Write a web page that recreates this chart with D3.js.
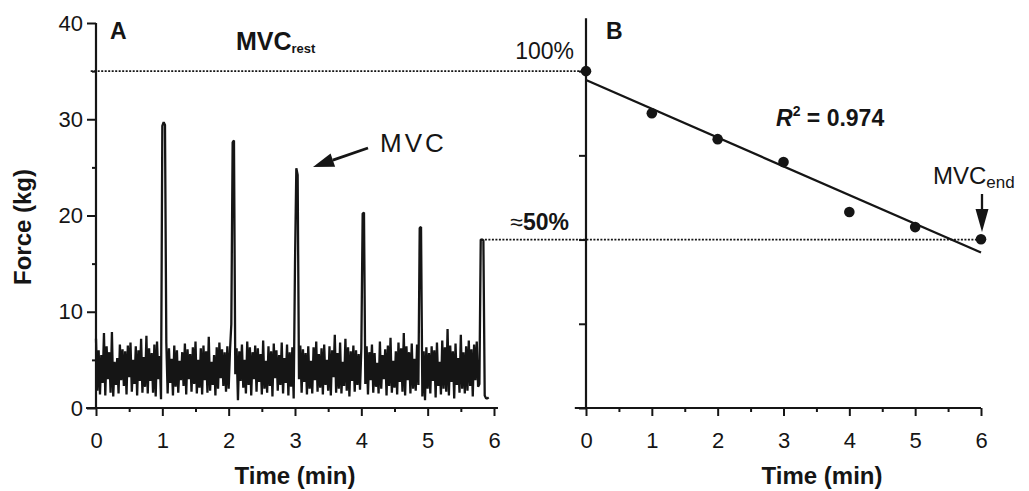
<!DOCTYPE html>
<html>
<head>
<meta charset="utf-8">
<script src="https://cdn.jsdelivr.net/npm/d3@7"></script>
<style>
  body { margin: 0; background: #fff; }
  text { font-family: "Liberation Sans", Arial, sans-serif; fill: #151515; }
</style>
</head>
<body>
<svg id="chart" width="1029" height="491"></svg>
<script>
// force trace of panel A, one sample every 0.02 min
const traceStep = 0.02
const traceForce = [
  7.2, 1.8, 6.0, 1.4, 5.5, 2.6, 7.8, 1.3, 6.4, 3.0,
  5.8, 1.6, 7.9, 1.2, 4.8, 2.4, 5.2, 1.5, 6.6, 2.9,
  6.1, 2.3, 5.9, 1.4, 6.5, 3.2, 6.8, 1.7, 5.0, 2.5,
  6.4, 1.3, 6.0, 2.8, 7.2, 1.6, 5.3, 2.2, 7.5, 1.5,
  6.2, 2.8, 5.7, 1.6, 6.6, 1.2, 6.9, 3.0, 5.4, 0.9,
  29.3, 29.7, 29.4, 6.8, 1.5, 6.2, 2.6, 5.1, 1.3, 6.5,
  2.2, 6.0, 1.6, 4.9, 2.9, 5.8, 2.3, 6.7, 1.4, 6.1,
  3.0, 5.6, 1.7, 6.3, 2.5, 6.9, 1.5, 5.0, 2.1, 6.2,
  1.4, 6.5, 2.9, 5.9, 1.6, 7.4, 1.8, 4.8, 2.4, 5.5,
  1.3, 6.3, 2.0, 6.8, 3.1, 6.1, 2.3, 5.8, 1.7, 6.4,
  2.0, 6.0, 8.7, 27.6, 27.8, 3.5, 6.2, 0.8, 5.9, 2.8,
  6.6, 2.1, 5.0, 1.5, 6.9, 2.4, 6.3, 1.3, 5.8, 3.0,
  6.5, 1.7, 6.2, 2.7, 5.6, 1.4, 7.0, 2.0, 4.9, 1.6,
  6.4, 2.3, 5.9, 1.2, 6.7, 3.1, 6.0, 1.8, 5.5, 2.4,
  6.8, 1.5, 5.2, 2.6, 6.6, 1.3, 5.8, 2.2, 6.3, 1.0,
  15.0, 24.9, 24.2, 3.0, 6.5, 1.6, 6.1, 2.7, 5.7, 1.4,
  6.4, 2.0, 4.9, 1.5, 6.3, 2.9, 6.9, 1.7, 5.6, 2.1,
  6.2, 1.4, 6.6, 2.4, 5.0, 1.8, 6.4, 1.3, 6.0, 3.2,
  7.6, 1.6, 5.7, 2.0, 6.8, 1.5, 4.8, 2.3, 7.2, 1.8,
  6.3, 1.2, 5.9, 2.8, 6.5, 1.7, 6.0, 2.4, 5.6, 1.9,
  6.2, 20.2, 20.3, 2.5, 6.4, 1.4, 5.8, 2.9, 6.6, 1.6,
  5.7, 2.2, 4.7, 1.5, 6.9, 2.0, 5.5, 3.0, 6.1, 1.3,
  6.5, 2.3, 7.3, 1.6, 4.9, 2.1, 5.9, 1.4, 6.8, 2.7,
  6.2, 1.7, 7.8, 1.3, 6.4, 2.9, 5.8, 1.5, 6.7, 2.0,
  5.1, 1.8, 6.6, 2.4, 18.7, 18.8, 1.2, 5.9, 0.8, 6.3,
  2.0, 5.7, 1.5, 6.4, 2.8, 6.0, 1.1, 6.8, 2.3, 4.8,
  1.4, 7.0, 2.0, 6.3, 1.7, 8.2, 1.3, 6.5, 2.7, 5.9,
  1.0, 6.7, 2.4, 5.2, 1.6, 7.6, 2.0, 5.8, 1.5, 6.4,
  1.8, 7.0, 2.3, 6.1, 1.2, 6.6, 2.9, 6.9, 2.2, 2.5,
  17.5, 17.5, 17.4, 1.3, 1.0, 1.0, 1.1
]
const mvcRest = 35          // kg
const mvcEndPct = 50

// panel B: MVC as % of MVC_rest
const fatigueTime = [0, 1, 2, 3, 4, 5, 6]
const fatiguePct = [100, 87.5, 79.8, 73, 58.2, 53.7, 50.1]

const timeTicks = [0, 1, 2, 3, 4, 5, 6]
const timeMinor = [0.5, 1.5, 2.5, 3.5, 4.5, 5.5]
const forceTicks = [0, 10, 20, 30, 40]
const forceMinor = [5, 15, 25, 35]
const pctTicks = [0, 25, 50, 75, 100]

const ink = "#151515"
const svg = d3.select("#chart")

const xA = d3.scaleLinear().domain([0, 6]).range([96, 494])
const yA = d3.scaleLinear().domain([0, 40]).range([408, 23])
const xB = d3.scaleLinear().domain([0, 6]).range([586, 981])
const yB = d3.scaleLinear().domain([0, 100]).range([yA(0), yA(mvcRest)])

function styleAxis(g, fontSize) {
  g.select(".domain").remove()
  g.selectAll(".tick line").attr("stroke", ink).attr("stroke-width", 2)
  g.selectAll(".tick text").attr("font-size", fontSize).attr("fill", ink)
    .attr("font-family", '"Liberation Sans", Arial, sans-serif')
}

// ---- panel A axes ----
svg.append("g").attr("transform", `translate(0,${yA(0)})`)
  .call(d3.axisBottom(xA).tickValues(timeTicks).tickSize(8).tickPadding(16).tickFormat(d3.format("d")))
  .call(g => styleAxis(g, 22))
svg.append("g").attr("transform", `translate(0,${yA(0)})`)
  .call(d3.axisBottom(xA).tickValues(timeMinor).tickSize(4).tickFormat(""))
  .call(g => styleAxis(g, 22))
svg.append("g").attr("transform", `translate(${xA(0)},0)`)
  .call(d3.axisLeft(yA).tickValues(forceTicks).tickSize(9).tickPadding(4).tickFormat(d3.format("d")))
  .call(g => styleAxis(g, 22))
svg.append("g").attr("transform", `translate(${xA(0)},0)`)
  .call(d3.axisLeft(yA).tickValues(forceMinor).tickSize(4).tickFormat(""))
  .call(g => styleAxis(g, 22))

svg.append("line").attr("x1", xA(-0.15)).attr("x2", xA(6.06)).attr("y1", yA(0)).attr("y2", yA(0))
  .attr("stroke", ink).attr("stroke-width", 2.2)
svg.append("line").attr("x1", xA(0)).attr("x2", xA(0)).attr("y1", yA(40)).attr("y2", yA(0))
  .attr("stroke", ink).attr("stroke-width", 2.2)

// ---- panel B axes ----
svg.append("g").attr("transform", `translate(0,${yB(0)})`)
  .call(d3.axisBottom(xB).tickValues(timeTicks).tickSize(8).tickPadding(16).tickFormat(d3.format("d")))
  .call(g => styleAxis(g, 22))
svg.append("g").attr("transform", `translate(0,${yB(0)})`)
  .call(d3.axisBottom(xB).tickValues(timeMinor).tickSize(4).tickFormat(""))
  .call(g => styleAxis(g, 22))
svg.append("g").attr("transform", `translate(${xB(0)},0)`)
  .call(d3.axisLeft(yB).tickValues(pctTicks).tickSize(7).tickFormat(""))
  .call(g => styleAxis(g, 22))

svg.append("line").attr("x1", xB(-0.17)).attr("x2", xB(6)).attr("y1", yB(0)).attr("y2", yB(0))
  .attr("stroke", ink).attr("stroke-width", 2.2)
svg.append("line").attr("x1", xB(0)).attr("x2", xB(0)).attr("y1", yA(40.5)).attr("y2", yB(0))
  .attr("stroke", ink).attr("stroke-width", 2.2)

// ---- dotted reference lines ----
svg.append("line").attr("x1", xA(-0.08)).attr("x2", xB(0) - 3)
  .attr("y1", yA(mvcRest)).attr("y2", yA(mvcRest))
  .attr("stroke", ink).attr("stroke-width", 1.7).attr("stroke-dasharray", "2,1.5")
svg.append("line").attr("x1", xA(5.81)).attr("x2", xB(6) - 4)
  .attr("y1", yB(mvcEndPct)).attr("y2", yB(mvcEndPct))
  .attr("stroke", ink).attr("stroke-width", 1.7).attr("stroke-dasharray", "2,1.5")

// ---- panel A trace ----
const traceLine = d3.line()
  .x((d, i) => xA(i * traceStep))
  .y(d => yA(d))
svg.append("path").datum(traceForce)
  .attr("d", traceLine)
  .attr("fill", "none").attr("stroke", ink).attr("stroke-width", 2.3)
  .attr("stroke-linejoin", "bevel")

// ---- panel B points and regression ----
const mx = d3.mean(fatigueTime), my = d3.mean(fatiguePct)
const slope = d3.sum(fatigueTime, (t, i) => (t - mx) * (fatiguePct[i] - my)) /
  d3.sum(fatigueTime, t => (t - mx) * (t - mx))
const intercept = my - slope * mx

svg.append("line")
  .attr("x1", xB(0)).attr("y1", yB(intercept))
  .attr("x2", xB(6)).attr("y2", yB(intercept + slope * 6))
  .attr("stroke", ink).attr("stroke-width", 2.3)

svg.selectAll(".pt").data(fatigueTime).enter().append("circle")
  .attr("cx", d => xB(d)).attr("cy", (d, i) => yB(fatiguePct[i]))
  .attr("r", 5.3).attr("fill", ink)

// ---- arrows ----
function arrow(x1, y1, x2, y2, len, w, sw) {
  const a = Math.atan2(y2 - y1, x2 - x1)
  const bx = x2 - len * Math.cos(a), by = y2 - len * Math.sin(a)
  svg.append("line").attr("x1", x1).attr("y1", y1).attr("x2", bx).attr("y2", by)
    .attr("stroke", ink).attr("stroke-width", sw)
  const px = -Math.sin(a) * w / 2, py = Math.cos(a) * w / 2
  svg.append("path")
    .attr("d", `M${x2},${y2}L${bx + px},${by + py}L${bx - px},${by - py}Z`)
    .attr("fill", ink)
}
arrow(368, 148, 313, 167, 21, 14, 2.8)
arrow(982, 194, 982, 232, 23, 13, 2.3)

// ---- text ----
svg.append("text").attr("x", 110).attr("y", 39).attr("font-size", 23).attr("font-weight", "bold").text("A")
svg.append("text").attr("x", 606).attr("y", 39).attr("font-size", 23).attr("font-weight", "bold").text("B")

const rest = svg.append("text").attr("x", 236).attr("y", 50).attr("font-size", 25).attr("font-weight", "bold")
rest.append("tspan").text("MVC")
rest.append("tspan").attr("font-size", 13).attr("dy", 3).text("rest")

svg.append("text").attr("x", 574).attr("y", 59).attr("font-size", 23).attr("text-anchor", "end").text("100%")
const half = svg.append("text").attr("x", 569).attr("y", 230).attr("font-size", 23).attr("text-anchor", "end")
half.append("tspan").text("≈")
half.append("tspan").attr("font-weight", "bold").text("50%")

svg.append("text").attr("x", 380).attr("y", 152).attr("font-size", 26).attr("letter-spacing", 3).text("MVC")

const r2 = svg.append("text").attr("x", 776).attr("y", 126).attr("font-size", 23).attr("font-weight", "bold")
r2.append("tspan").attr("font-style", "italic").text("R")
r2.append("tspan").attr("font-size", 14).attr("dy", -10).text("2")
r2.append("tspan").attr("dy", 10).text(" = 0.974")

const end = svg.append("text").attr("x", 933).attr("y", 184).attr("font-size", 24)
end.append("tspan").text("MVC")
end.append("tspan").attr("font-size", 17).attr("dy", 4).text("end")

svg.append("text").attr("x", (xA(0) + xA(6)) / 2).attr("y", 484).attr("text-anchor", "middle")
  .attr("font-size", 24).attr("font-weight", "bold").text("Time (min)")
svg.append("text").attr("x", 822).attr("y", 484).attr("text-anchor", "middle")
  .attr("font-size", 24).attr("font-weight", "bold").text("Time (min)")

svg.append("text").attr("transform", "translate(31,227) rotate(-90)").attr("text-anchor", "middle")
  .attr("font-size", 24).attr("font-weight", "bold").text("Force (kg)")
</script>
</body>
</html>
